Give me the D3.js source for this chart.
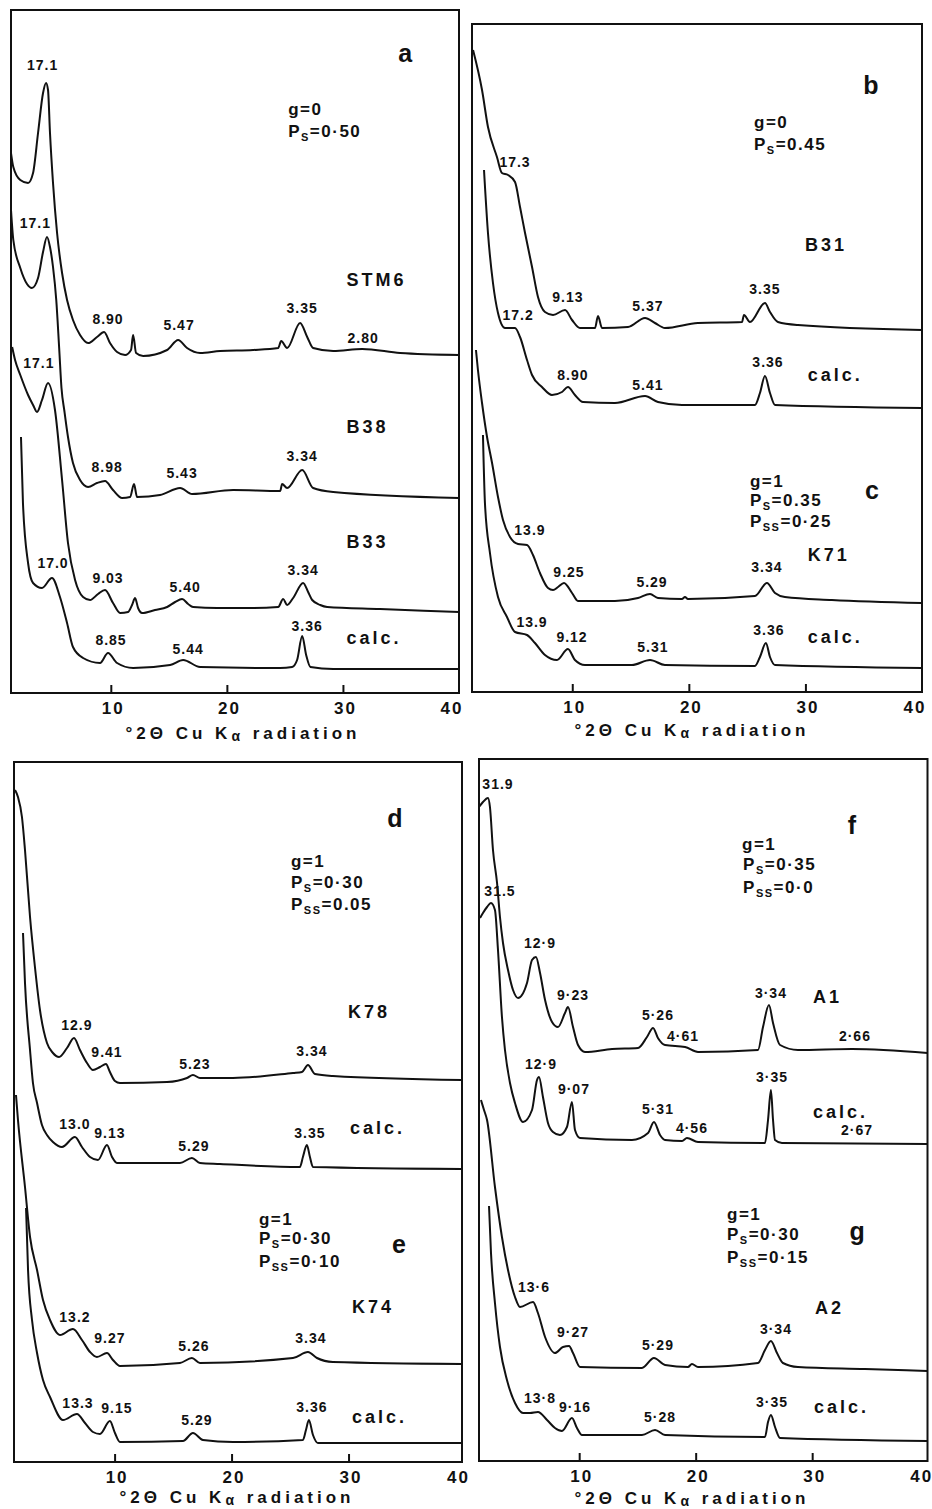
<!DOCTYPE html>
<html>
<head>
<meta charset="utf-8">
<script src="https://cdn.jsdelivr.net/npm/d3@7"></script>
<style>
  body { margin: 0; background: #fff; }
  svg { display: block; }
</style>
</head>
<body>
<svg id="chart" width="932" height="1509"></svg>
<script>
// traces: [°2θ, intensity (arbitrary units, counted up from each frame's base)]
const stm6 = [[1.4,540],[1.6,526],[2.2,513],[2.87,510],[3.3,520],[3.73,560],[4.16,600],[4.42,610],[4.59,603],[4.76,560],[5.02,510],[5.37,460],[5.8,420],[6.23,393],[6.74,373],[7.35,358],[8.04,350],[8.81,356],[9.42,361],[9.93,350],[10.54,341],[11.23,338],[11.74,343],[11.92,358],[12.18,340],[12.78,337],[14.85,343],[15.8,353],[16.57,345],[17.69,340],[19.42,342],[22.26,343],[24.42,345],[24.68,352],[25.19,345],[26.31,370],[26.92,356],[27.43,345],[29.16,342],[31.66,344],[34.93,340],[40,338]];
const b38 = [[1.4,483],[1.6,453],[2.2,425],[2.78,409],[3.2,405],[3.73,415],[4.16,441],[4.5,456],[4.76,446],[5.02,426],[5.3,393],[5.55,345],[5.75,305],[6.0,282],[6.31,256],[6.74,230],[7.35,213],[8.04,206],[8.81,210],[9.5,212],[10.19,203],[10.97,195],[11.66,196],[12.0,209],[12.26,196],[14.24,198],[15.97,205],[17.0,199],[20.54,203],[24.59,202],[24.76,209],[25.19,205],[26.49,223],[27.43,205],[29.16,201],[40,195]];
const b33 = [[1.5,346],[1.75,333],[2.2,318],[2.87,298],[3.3,288],[3.64,281],[4.07,293],[4.59,310],[5.19,283],[5.8,213],[6.31,150],[6.92,113],[7.61,96],[8.21,93],[8.9,99],[9.5,103],[10.19,90],[10.8,80],[11.49,81],[11.83,88],[12.09,95],[12.35,85],[12.69,80],[13.81,83],[14.85,86],[15.54,91],[16.14,94],[16.66,89],[17.09,86],[19.16,85],[22.0,85],[24.42,86],[24.85,94],[25.19,88],[25.71,95],[26.57,110],[27.0,101],[27.35,93],[28.04,88],[28.64,86],[33.2,84],[40,81]];
const calcA = [[2.26,256],[2.43,190],[2.87,130],[3.3,110],[4.07,105],[4.93,115],[5.62,96],[6.23,70],[6.74,46],[7.61,35],[9.07,30],[9.76,40],[10.54,30],[11.92,25],[15.11,28],[16.23,33],[17.69,26],[24.59,25],[25.62,26],[26.05,33],[26.49,57],[26.83,38],[27.2,26],[29.16,24],[40,24]];

const b31 = [[1.49,642],[2.26,602],[2.77,565],[3.54,535],[3.97,519],[4.49,517],[5.09,510],[5.52,485],[5.95,459],[6.55,425],[7.06,395],[7.66,380],[8.35,377],[9.38,382],[9.98,372],[10.66,364],[11.95,364],[12.21,376],[12.55,364],[14.78,365],[16.24,374],[17.09,369],[17.95,364],[20.78,369],[24.56,370],[24.73,377],[25.24,370],[26.53,389],[26.96,380],[27.64,370],[29.36,367],[40,362]];
const calcB = [[2.43,522],[2.77,459],[3.2,409],[3.63,379],[4.23,364],[5.09,364],[5.52,355],[6.12,332],[6.55,317],[7.4,305],[8.26,297],[9.12,300],[9.63,305],[10.23,297],[10.92,290],[13.66,289],[16.24,296],[17.35,290],[19.41,287],[25.67,287],[26.1,299],[26.53,316],[26.96,299],[27.39,287],[40,284]];
const k71 = [[1.74,342],[1.91,322],[2.26,289],[2.69,255],[3.12,229],[3.63,195],[4.06,172],[4.66,155],[5.35,148],[6.12,147],[6.63,137],[7.23,119],[7.92,104],[8.35,102],[8.78,105],[9.29,109],[9.98,99],[10.49,91],[13.66,91],[15.64,94],[16.67,98],[17.35,94],[19.41,93],[19.67,95],[19.92,93],[25.67,96],[26.7,109],[27.39,99],[28.24,95],[32.27,92],[40,89]];
const calcC = [[2.34,257],[2.51,189],[2.94,139],[3.63,95],[4.4,75],[5.09,60],[6.12,57],[6.8,49],[7.66,37],[8.69,32],[9.63,43],[10.23,32],[11.09,27],[15.12,27],[16.67,32],[17.95,27],[25.67,26],[26.1,35],[26.61,49],[26.96,35],[27.39,27],[40,24]];

const k78 = [[1.49,672],[1.74,665],[2.08,645],[2.34,612],[2.77,545],[3.19,495],[3.62,452],[4.22,419],[4.73,409],[5.25,405],[5.93,414],[6.53,424],[7.04,412],[7.64,399],[8.15,392],[8.75,395],[9.26,398],[9.6,390],[10.03,381],[10.46,379],[14.48,380],[16.19,384],[16.7,387],[17.3,384],[20.12,384],[25.25,389],[26.02,390],[26.53,397],[27.13,388],[28.66,386],[39.7,382]];
const calcD = [[2.17,529],[2.34,479],[2.77,412],[3.02,379],[3.37,359],[3.79,337],[4.22,327],[4.73,320],[5.5,315],[6.61,325],[7.21,315],[7.9,305],[8.58,302],[9.35,317],[9.78,305],[10.2,299],[15.59,299],[16.61,304],[17.3,299],[19.01,298],[25.84,295],[26.1,305],[26.44,317],[26.7,305],[26.96,295],[39.7,293]];
const k74 = [[1.57,367],[1.74,342],[2.34,275],[2.77,225],[3.37,192],[3.88,162],[4.48,142],[5.33,127],[6.44,133],[7.21,122],[7.9,110],[8.49,105],[9.35,109],[9.86,102],[10.46,96],[15.59,99],[16.61,104],[17.3,99],[25.25,104],[26.53,110],[27.3,104],[28.66,100],[39.7,98]];
const calcE = [[2.43,254],[2.6,192],[2.94,142],[3.37,109],[3.88,82],[4.48,65],[5.59,42],[6.78,48],[7.47,39],[8.15,30],[8.75,28],[9.6,41],[10.03,29],[10.46,20],[15.84,21],[16.7,29],[17.55,22],[20.12,20],[26.1,22],[26.36,32],[26.61,42],[26.96,27],[27.38,19],[39.7,19]];

const sampleA1 = [[1.4,654],[1.74,659],[2.17,663],[2.34,654],[2.6,611],[2.95,578],[3.2,544],[3.46,518],[3.89,491],[4.32,471],[4.75,463],[5.52,478],[5.95,501],[6.29,504],[6.64,488],[7.07,461],[7.67,439],[8.18,434],[8.78,448],[9.04,454],[9.47,434],[9.9,416],[10.5,409],[12.82,412],[15.05,413],[15.82,424],[16.34,433],[16.76,423],[17.37,416],[19.09,414],[20.2,409],[25.35,411],[25.78,434],[26.29,456],[26.64,438],[27.24,416],[28.78,411],[33.42,412],[39.9,408]];
const calcF = [[1.49,543],[1.74,548],[2.09,554],[2.43,558],[2.77,551],[3.03,511],[3.37,444],[3.63,411],[4.06,378],[4.49,358],[5.18,339],[5.95,351],[6.38,381],[6.55,384],[6.89,364],[7.32,338],[7.75,329],[8.35,326],[8.95,334],[9.38,359],[9.64,331],[10.07,323],[14.53,321],[15.91,328],[16.42,339],[16.94,326],[17.37,321],[18.83,320],[19.25,323],[20.2,319],[25.95,318],[26.21,341],[26.46,371],[26.64,341],[26.81,321],[27.41,318],[39.9,317]];
const sampleA2 = [[1.57,361],[1.83,351],[2.09,341],[2.77,274],[3.37,224],[3.89,191],[4.49,164],[4.92,154],[6.04,159],[6.46,148],[7.07,124],[7.92,108],[8.61,114],[9.13,115],[9.47,108],[10.07,94],[15.39,93],[16.42,103],[17.37,96],[19.34,94],[19.68,97],[20.2,94],[25.35,98],[25.95,111],[26.46,120],[26.98,108],[27.49,98],[28.78,94],[34.53,92],[39.9,90]];
const calcG = [[2.26,255],[2.43,208],[2.77,158],[3.2,114],[3.8,81],[4.49,58],[5.18,48],[5.78,48],[6.46,49],[7.24,41],[7.92,33],[8.52,30],[9.38,43],[9.81,33],[10.24,26],[15.39,26],[16.51,31],[17.37,26],[25.95,24],[26.21,39],[26.46,46],[26.81,34],[27.24,23],[39.9,20]];

// peak labels: [d-spacing text, °2θ, intensity]
const peaksSTM6 = [['17.1',4.12,628],['8.90',9.76,374],['5.47',15.88,368],['3.35',26.49,385],['2.80',31.74,355]];
const peaksB38 = [['17.1',3.5,470],['8.98',9.68,226],['5.43',16.14,220],['3.34',26.49,237]];
const peaksB33 = [['17.1',3.8,330],['9.03',9.76,115],['5.40',16.4,106],['3.34',26.57,123]];
const peaksCalcA = [['17.0',5.02,130],['8.85',10.02,53],['5.44',16.66,44],['3.36',26.92,67]];
const peaksB31 = [['17.3',5.09,530],['9.13',9.63,395],['5.37',16.49,386],['3.35',26.53,403]];
const peaksCalcB = [['17.2',5.35,377],['8.90',10.06,317],['5.41',16.49,307],['3.36',26.79,330]];
const peaksK71 = [['13.9',6.37,162],['9.25',9.72,120],['5.29',16.84,110],['3.34',26.7,125]];
const peaksCalcC = [['13.9',6.55,70],['9.12',9.98,55],['5.31',16.92,45],['3.36',26.87,62]];
const peaksK78 = [['12.9',6.78,437],['9.41',9.35,410],['5.23',16.87,398],['3.34',26.87,411]];
const peaksCalcD = [['13.0',6.61,338],['9.13',9.6,329],['5.29',16.78,316],['3.35',26.7,329]];
const peaksK74 = [['13.2',6.61,145],['9.27',9.6,124],['5.26',16.78,116],['3.34',26.78,124]];
const peaksCalcE = [['13.3',6.87,59],['9.15',10.2,54],['5.29',17.04,42],['3.36',26.87,55]];
const peaksA1 = [['31.9',3.03,677],['12·9',6.64,518],['9·23',9.47,466],['5·26',16.76,446],['4·61',18.91,425],['3·34',26.46,468],['2·66',33.67,425]];
const peaksCalcF = [['31.5',3.2,570],['12·9',6.72,397],['9·07',9.55,372],['5·31',16.76,352],['4·56',19.68,333],['3·35',26.55,384],['2·67',33.85,331]];
const peaksA2 = [['13·6',6.12,174],['9·27',9.47,129],['5·29',16.76,116],['3·34',26.89,132]];
const peaksCalcG = [['13·8',6.64,63],['9·16',9.64,54],['5·28',16.94,44],['3·35',26.55,59]];

// sample names: [text, °2θ, intensity]
const namesA = [['STM6',30.3,413],['B38',30.3,266],['B33',30.3,151],['calc.',30.3,55]];
const namesB = [['B31',29.96,447],['calc.',30.2,317],['K71',30.2,137],['calc.',30.2,55]];
const namesD = [['K78',29.95,450],['calc.',30.12,334],['K74',30.29,155],['calc.',30.29,45]];
const namesF = [['A1',30.07,464],['calc.',30.07,349],['A2',30.24,153],['calc.',30.16,54]];

// model parameters: [text, °2θ, intensity]
const paramsA = [['g=0',25.28,578],['P_{S}=0·50',25.28,556]];
const paramsB = [['g=0',25.59,564],['P_{S}=0.45',25.59,542]];
const paramsC = [['g=1',25.24,205],['P_{S}=0.35',25.24,186],['P_{SS}=0·25',25.24,165]];
const paramsD = [['g=1',25.08,595],['P_{S}=0·30',25.08,574],['P_{SS}=0.05',25.08,552]];
const paramsE = [['g=1',22.34,237],['P_{S}=0·30',22.34,218],['P_{SS}=0·10',22.34,195]];
const paramsF = [['g=1',23.98,611],['P_{S}=0·35',24.07,591],['P_{SS}=0·0',24.07,568]];
const paramsG = [['g=1',22.69,241],['P_{S}=0·30',22.69,221],['P_{SS}=0·15',22.69,198]];

const tickVals = [10, 20, 30, 40];

const frames = [
  { x0: 11, x1: 459, y0: 10, y1: 693, dom: [1.4, 40], title: [243, 733],
    traces: [[stm6, peaksSTM6], [b38, peaksB38], [b33, peaksB33], [calcA, peaksCalcA]],
    names: namesA, params: [paramsA], letters: [['a', 35.37, 640]] },
  { x0: 472, x1: 922, y0: 24, y1: 692, dom: [1.4, 40], title: [692, 730],
    traces: [[b31, peaksB31], [calcB, peaksCalcB], [k71, peaksK71], [calcC, peaksCalcC]],
    names: namesB, params: [paramsB, paramsC], letters: [['b', 35.62, 607], ['c', 35.7, 202]] },
  { x0: 14, x1: 462, y0: 762, y1: 1462, dom: [1.4, 39.7], title: [237, 1497],
    traces: [[k78, peaksK78], [calcD, peaksCalcD], [k74, peaksK74], [calcE, peaksCalcE]],
    names: namesD, params: [paramsD, paramsE], letters: [['d', 33.96, 644], ['e', 34.3, 218]] },
  { x0: 479, x1: 927.5, y0: 759, y1: 1461, dom: [1.4, 39.9], title: [692, 1498],
    traces: [[sampleA1, peaksA1], [calcF, peaksCalcF], [sampleA2, peaksA2], [calcG, peaksCalcG]],
    names: namesF, params: [paramsF, paramsG], letters: [['f', 33.42, 636], ['g', 33.85, 230]] }
];

const font = '"Liberation Sans", Arial, Helvetica, sans-serif';
const ink = '#111';
const svg = d3.select('#chart');

function addParam(sel, str) {
  // "P_{SS}=0·25" -> P with subscript SS
  const parts = str.split(/_\{(.*?)\}/);
  parts.forEach((p, i) => {
    if (!p) return;
    if (i % 2 === 1) {
      sel.append('tspan').attr('font-size', 11).attr('dy', 4).text(p);
    } else {
      sel.append('tspan').attr('dy', i > 0 ? -4 : 0).text(p);
    }
  });
}

frames.forEach(f => {
  const x = d3.scaleLinear().domain(f.dom).range([f.x0, f.x1]);
  const y = d3.scaleLinear().domain([0, f.y1 - f.y0]).range([f.y1, f.y0]);
  const g = svg.append('g').attr('font-family', font).attr('fill', ink);

  const line = d3.line()
    .x(d => x(d[0]))
    .y(d => y(d[1]))
    .curve(d3.curveMonotoneX);

  f.traces.forEach(([data, peaks]) => {
    g.append('path')
      .datum(data)
      .attr('d', line)
      .attr('fill', 'none')
      .attr('stroke', ink)
      .attr('stroke-width', 2)
      .attr('stroke-linejoin', 'round');

    g.selectAll(null)
      .data(peaks)
      .enter().append('text')
      .attr('x', d => x(d[1]))
      .attr('y', d => y(d[2]))
      .attr('dy', '0.35em')
      .attr('text-anchor', 'middle')
      .attr('font-size', 14)
      .attr('font-weight', 'bold')
      .attr('letter-spacing', 1)
      .text(d => d[0]);
  });

  g.selectAll(null)
    .data(f.names)
    .enter().append('text')
    .attr('x', d => x(d[1]))
    .attr('y', d => y(d[2]))
    .attr('dy', '0.35em')
    .attr('font-size', 18)
    .attr('font-weight', 'bold')
    .attr('letter-spacing', 3)
    .text(d => d[0]);

  f.params.forEach(block => {
    block.forEach(d => {
      const t = g.append('text')
        .attr('x', x(d[1]))
        .attr('y', y(d[2]))
        .attr('dy', '0.35em')
        .attr('font-size', 17)
        .attr('font-weight', 'bold')
        .attr('letter-spacing', 1.5);
      addParam(t, d[0]);
    });
  });

  g.selectAll(null)
    .data(f.letters)
    .enter().append('text')
    .attr('x', d => x(d[1]))
    .attr('y', d => y(d[2]))
    .attr('dy', '0.35em')
    .attr('text-anchor', 'middle')
    .attr('font-size', 25)
    .attr('font-weight', 'bold')
    .text(d => d[0]);

  // frame
  g.append('rect')
    .attr('x', f.x0).attr('y', f.y0)
    .attr('width', f.x1 - f.x0).attr('height', f.y1 - f.y0)
    .attr('fill', 'none')
    .attr('stroke', ink)
    .attr('stroke-width', 2);

  // x axis, ticks pointing inwards
  const ax = g.append('g')
    .attr('transform', `translate(0,${f.y1})`)
    .call(d3.axisBottom(x).tickValues(tickVals).tickFormat(d3.format('d')).tickSize(-8).tickPadding(9));
  ax.select('.domain').remove();
  ax.attr('font-family', font).attr('font-size', 17);
  ax.selectAll('.tick line').attr('stroke', ink).attr('stroke-width', 2);
  ax.selectAll('.tick text')
    .attr('fill', ink)
    .attr('font-weight', 'bold')
    .attr('letter-spacing', 2)
    .attr('x', 2);
  const last = ax.selectAll('.tick').filter(d => d === 40);
  last.select('line').remove();
  last.select('text').attr('text-anchor', 'end').attr('x', 4);

  const title = g.append('text')
    .attr('x', f.title[0])
    .attr('y', f.title[1])
    .attr('dy', '0.35em')
    .attr('text-anchor', 'middle')
    .attr('font-size', 17)
    .attr('font-weight', 'bold')
    .attr('letter-spacing', 4);
  title.append('tspan').text('°2Θ Cu K');
  title.append('tspan').attr('font-size', 14).attr('dy', 2).text('α');
  title.append('tspan').attr('dy', -2).text(' radiation');
});
</script>
</body>
</html>
